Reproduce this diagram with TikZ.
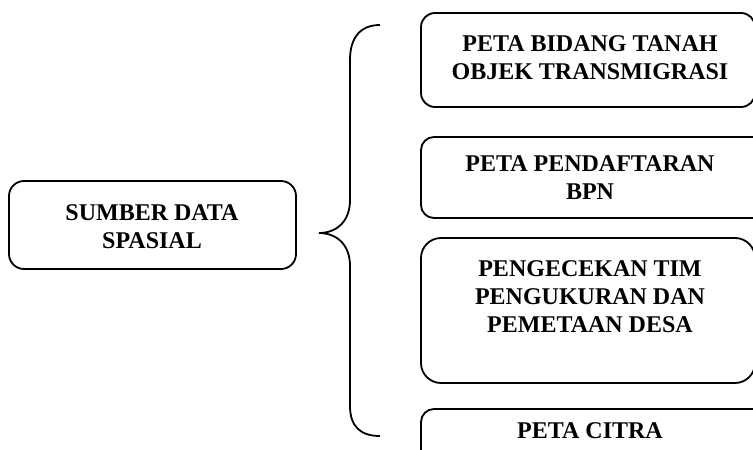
\documentclass[tikz,border=0pt]{standalone}
\usepackage{fontspec}
\setmainfont{Liberation Serif}
\begin{document}
\begin{tikzpicture}[x=1pt,y=-1pt,
  boxline/.style={draw=black, line width=1.8pt},
  label/.style={font=\bfseries\fontsize{24}{28}\selectfont, align=center, inner sep=0pt},
  bracecurve/.style={draw=black, line width=1.8pt}]
  \useasboundingbox (0,0) rectangle (753,450);
  \clip (0,0) rectangle (753,450);

  % source box on the left
  \draw[boxline, rounded corners=15pt] (9,181) rectangle (296,269);
  \node[label] (src) at (152,227) {SUMBER DATA\\SPASIAL};

  % curly brace joining the source to its items
  \coordinate (tip) at (319,233);
  \draw[bracecurve] (380,25) .. controls (360,25) and (350,38) .. (350,60)
    -- (350,200) .. controls (350,222) and (336,233) .. (tip)
    .. controls (336,233) and (350,244) .. (350,266)
    -- (350,406) .. controls (350,426) and (360,436) .. (380,436);

  % items on the right
  \draw[boxline, rounded corners=14pt] (421,13) rectangle (755,107);
  \node[label] (b1) at (590,58) {PETA BIDANG TANAH\\OBJEK TRANSMIGRASI};

  \draw[boxline, rounded corners=13pt] (421,137) rectangle (775,218);
  \node[label] (b2) at (590,178) {PETA PENDAFTARAN\\BPN};

  \draw[boxline, rounded corners=20pt] (421,238) rectangle (755,383);
  \node[label] (b3) at (590,297) {PENGECEKAN TIM\\PENGUKURAN DAN\\PEMETAAN DESA};

  \draw[boxline, rounded corners=13pt] (421,409) rectangle (775,490);
  \node[label] (b4) at (590,431) {PETA CITRA};
\end{tikzpicture}
\end{document}
